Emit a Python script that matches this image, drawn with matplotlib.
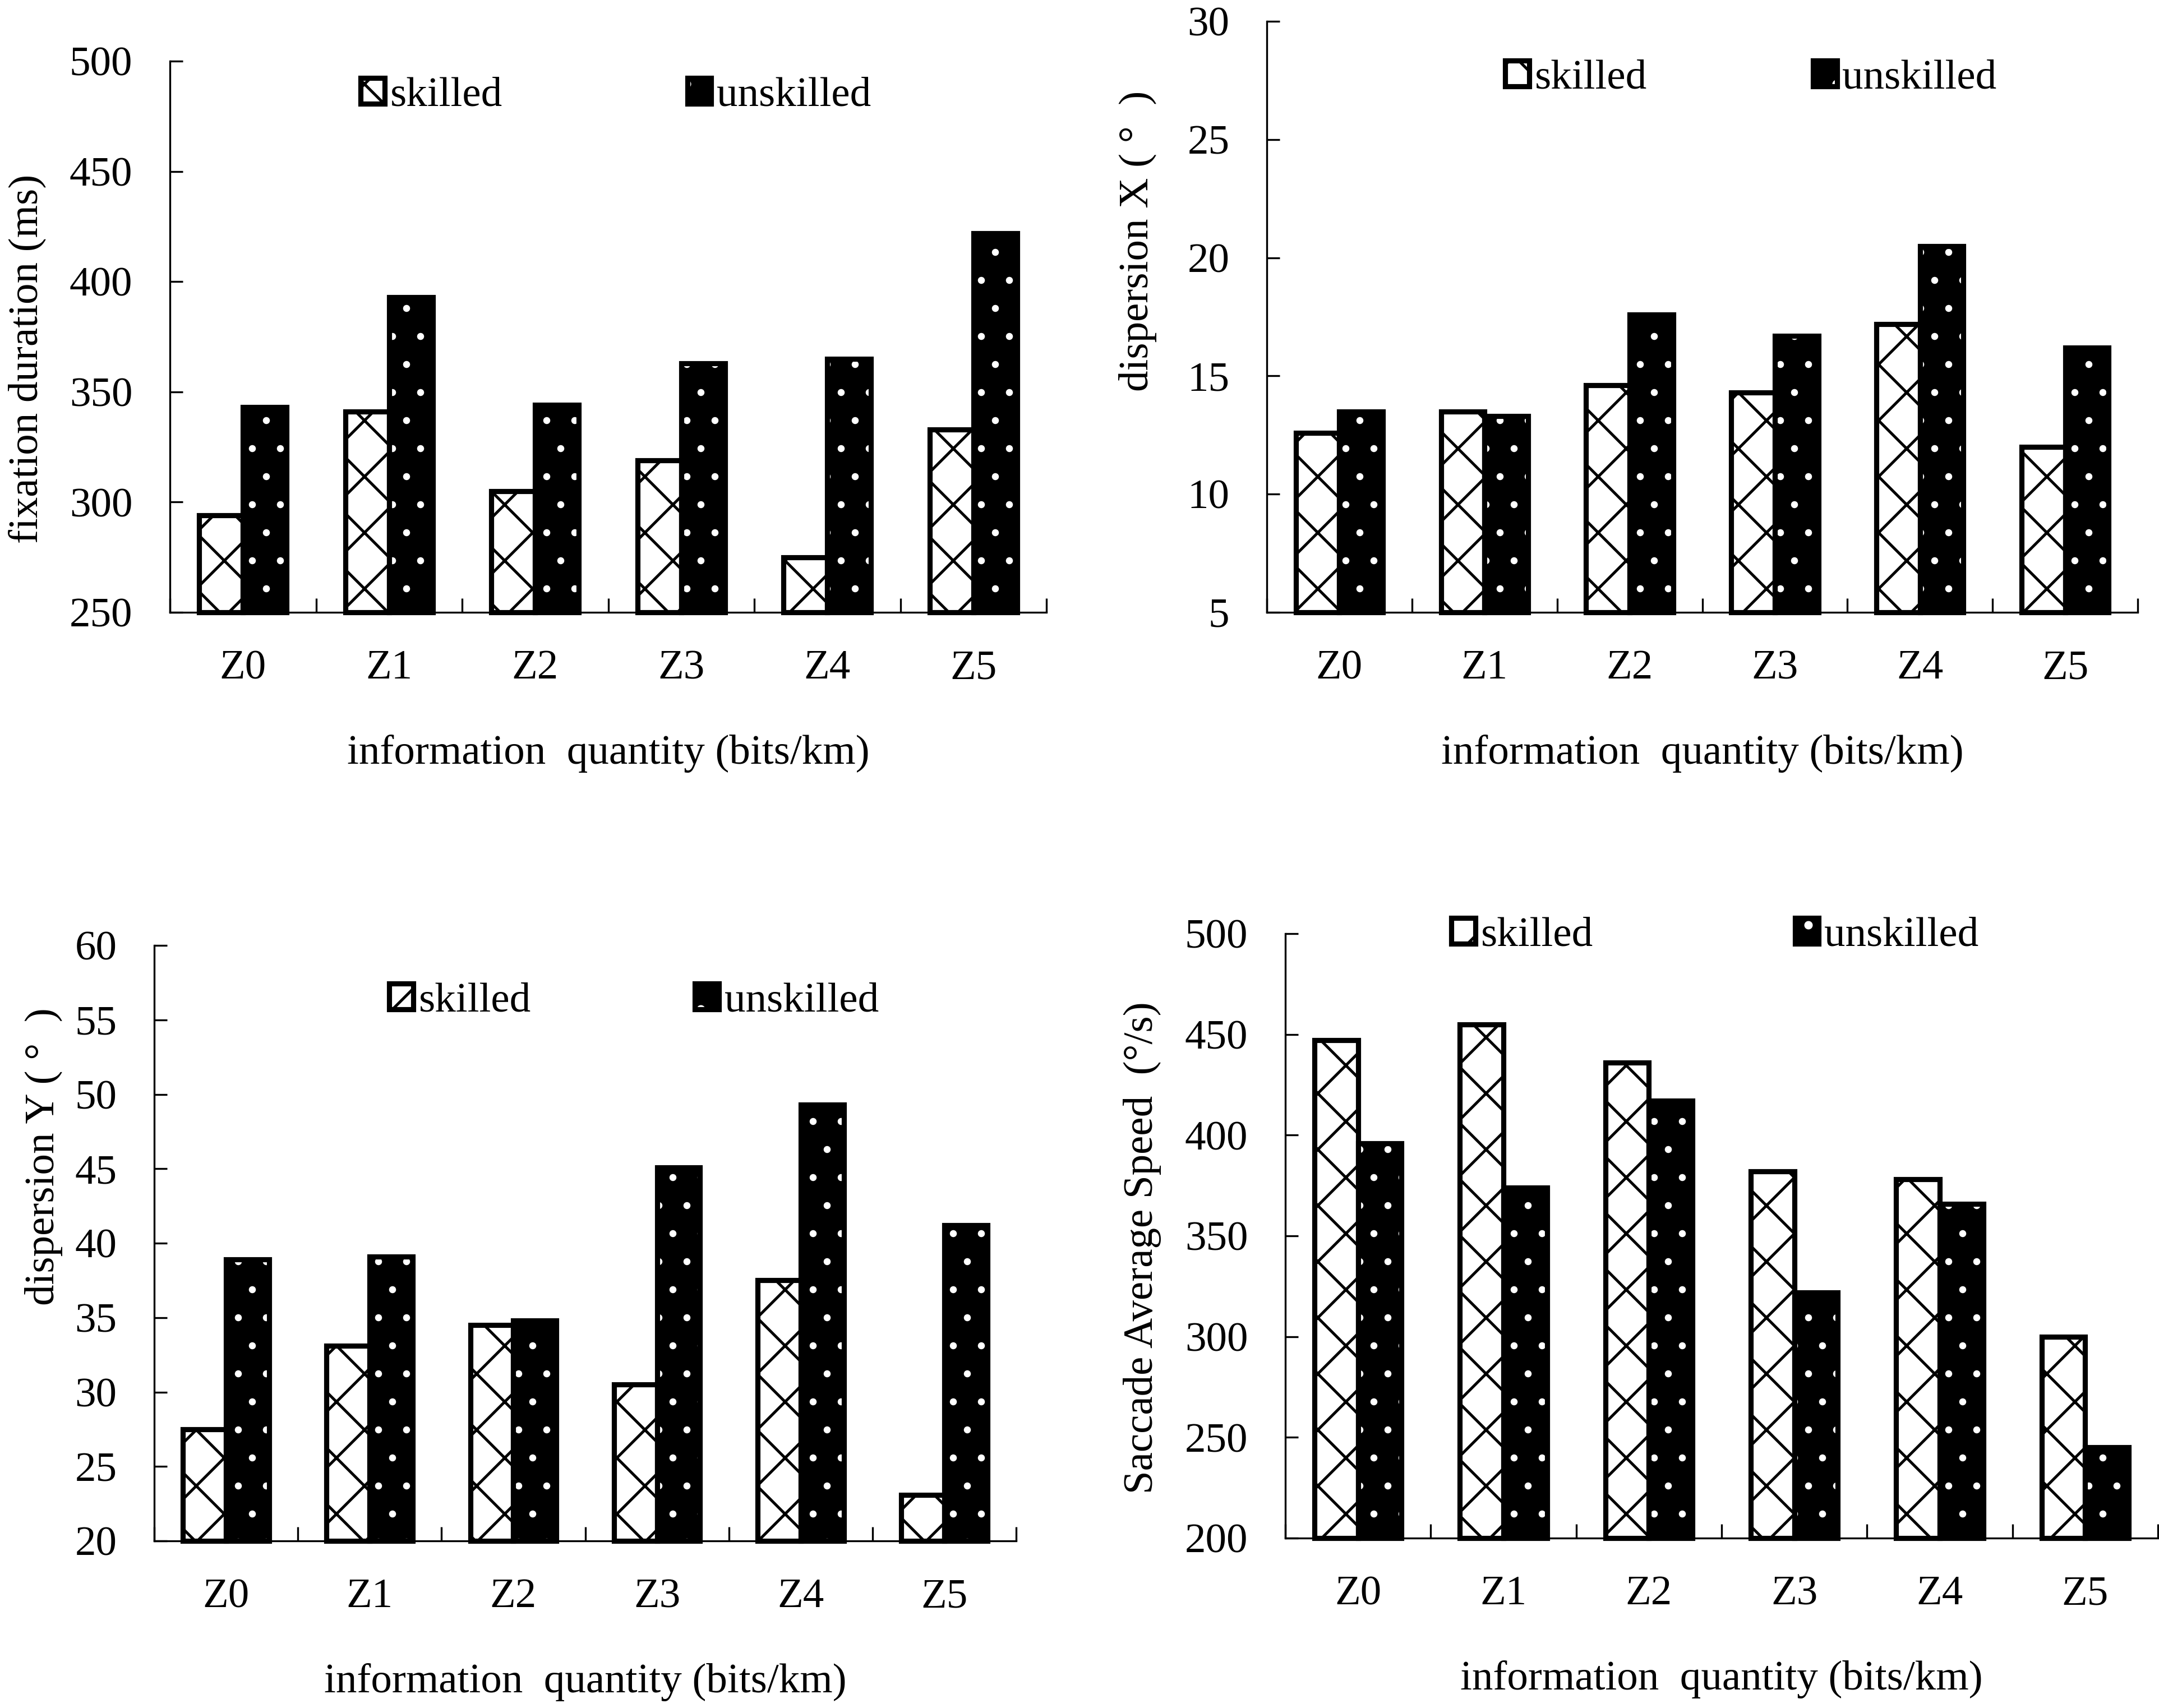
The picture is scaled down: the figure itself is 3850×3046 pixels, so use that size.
import numpy as np
import matplotlib
matplotlib.use("Agg")
from matplotlib import pyplot as plt
from matplotlib.patches import Patch

plt.rcParams['font.family'] = ['Liberation Serif', 'DejaVu Serif']
plt.rcParams['font.size'] = 18
plt.rcParams['hatch.linewidth'] = 1.2

zones = ['Z0', 'Z1', 'Z2', 'Z3', 'Z4', 'Z5']

fix_skilled = [294, 341, 305, 319, 275, 333]
fix_unskilled = [343, 393, 344, 363, 365, 422]

dispx_skilled = [12.6, 13.5, 14.6, 14.3, 17.2, 12.0]
dispx_unskilled = [13.5, 13.3, 17.6, 16.7, 20.5, 16.2]

dispy_skilled = [27.5, 33.1, 34.5, 30.5, 37.5, 23.1]
dispy_unskilled = [38.9, 39.1, 34.8, 45.1, 49.3, 41.2]

speed_skilled = [447, 455, 436, 382, 378, 300]
speed_unskilled = [396, 374, 417, 322, 366, 245]

W, H = 3850, 3046
fig = plt.figure(figsize=(W / 300, H / 300), dpi=300)

# left, top, right, bottom of each plot area in pixels
boxes = [(303, 109, 1866, 1092), (2259, 38, 3812, 1092),
         (275, 1686, 1812, 2748), (2292, 1665, 3848, 2743)]
# legend anchor (left of first marker, vertical centre), column spacing
legends = [(643, 171, 4.4), (2684, 140, 3.95), (694, 1786, 3.9), (2588, 1669, 4.8)]

panels = [
    (fix_skilled, fix_unskilled, 'fixation duration (ms)', 250, 500, 50, 10, 0.46),
    (dispx_skilled, dispx_unskilled, 'dispersion X ( °  )', 5, 30, 5, 13, 0.628),
    (dispy_skilled, dispy_unskilled, 'dispersion Y ( °  )', 20, 60, 5, 5, 0.645),
    (speed_skilled, speed_unskilled, 'Saccade Average Speed  (°/s)', 200, 500, 50, 10, 0.48),
]

lw = 2.2
x = np.arange(len(zones)) + 0.5

for i in range(4):
    sk, un, ylabel, lo, hi, step, ypad, ypos = panels[i]
    l, t, r, b = boxes[i]
    ax = fig.add_axes([l / W, 1 - b / H, (r - l) / W, (b - t) / H])

    ax.bar(x - 0.15, np.array(sk) - lo, width=0.3, bottom=lo, color='white',
           edgecolor='black', hatch='x', linewidth=lw, clip_on=False, zorder=2)
    dots = ax.bar(x + 0.15, np.array(un) - lo, width=0.3, bottom=lo, color='black',
                  edgecolor='white', hatch='.', linewidth=0, clip_on=False, zorder=2)
    for p in dots:
        if hasattr(p, 'set_hatch_linewidth'):
            p.set_hatch_linewidth(0.6)
    ax.bar(x + 0.15, np.array(un) - lo, width=0.3, bottom=lo, fill=False,
           edgecolor='black', linewidth=lw, clip_on=False, zorder=2)

    ax.set_xlim(0, 6)
    ax.set_ylim(lo, hi)
    ax.set_yticks(np.arange(lo, hi + step / 2, step))
    ax.set_xticks(x)
    ax.set_xticklabels(zones)
    ax.set_xticks(np.arange(0, 7), minor=True)

    for s in ['top', 'right']:
        ax.spines[s].set_visible(False)
    for s in ['left', 'bottom']:
        ax.spines[s].set_linewidth(0.8)
        ax.spines[s].set_zorder(3)

    ax.tick_params(axis='y', direction='in', length=5.5, width=0.8, pad=16)
    ax.tick_params(axis='x', which='major', length=0, pad=16)
    ax.tick_params(axis='x', which='minor', direction='in', length=6, width=0.8)

    ax.set_ylabel(ylabel, labelpad=ypad)
    ax.yaxis.label.set_y(ypos)
    ax.set_xlabel('information  quantity (bits/km)', labelpad=20)

    h1 = Patch(facecolor='white', edgecolor='black', hatch='x', linewidth=lw)
    h2a = Patch(facecolor='black', edgecolor='white', hatch='.', linewidth=0)
    h2b = Patch(facecolor='none', edgecolor='black', linewidth=lw)
    lx, ly, cs = legends[i]
    ax.legend([h1, (h2a, h2b)], ['skilled', 'unskilled'], ncol=2, frameon=False,
              loc='center left', bbox_to_anchor=(lx / W, 1 - ly / H),
              bbox_transform=fig.transFigure, handlelength=0.57, handleheight=0.57,
              handletextpad=0.13, columnspacing=cs, borderpad=0, borderaxespad=0)

fig.savefig('out.png', dpi=300)
